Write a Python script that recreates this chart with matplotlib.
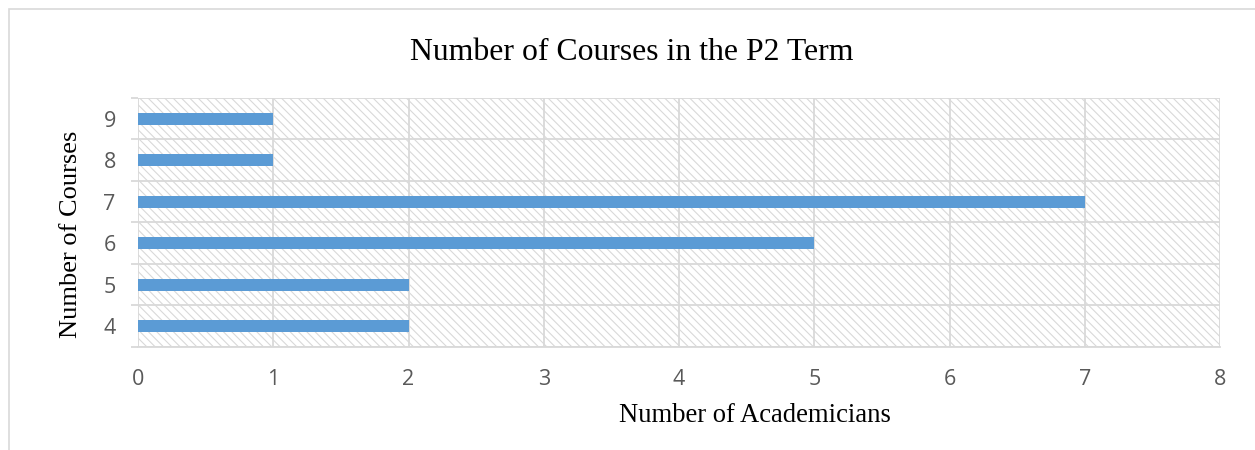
import matplotlib.pyplot as plt
from matplotlib.patches import Rectangle

# data
courses = [4, 5, 6, 7, 8, 9]
academicians = [2, 2, 5, 7, 1, 1]

BAR_COLOR = "#5B9BD5"
GRID_COLOR = "#D9D9D9"
TEXT_GRAY = "#595959"
W, H = 1255, 450

plt.rcParams["hatch.linewidth"] = 0.8
plt.rcParams["hatch.color"] = GRID_COLOR

fig = plt.figure(figsize=(W / 100, H / 100), dpi=100)
ax = fig.add_axes([138 / W, 1 - 347 / H, (1220 - 138) / W, (347 - 98) / H])

# figure frame (cut off at right and bottom like the reference)
fig.patches.append(Rectangle((9 / W, -0.1), 1.2, (441 / H) + 0.1,
                             transform=fig.transFigure, fill=False,
                             edgecolor=GRID_COLOR, linewidth=1.2))

# hatched plot area
ax.add_patch(Rectangle((0, 0), 1, 1, transform=ax.transAxes, facecolor="white",
                       edgecolor=GRID_COLOR, hatch="\\\\\\\\", linewidth=0, zorder=0))

ax.barh(courses, academicians, height=0.3, color=BAR_COLOR, zorder=3)

ax.set_xlim(0, 8)
ax.set_ylim(3.5, 9.5)
ax.set_xticks(range(0, 9))
ax.set_yticks(courses)
ax.set_yticks([c - 0.5 for c in courses] + [9.5], minor=True)

ax.grid(axis="x", which="major", color=GRID_COLOR, linewidth=1.3, zorder=1)
ax.grid(axis="y", which="minor", color=GRID_COLOR, linewidth=1.3, zorder=1)
ax.set_axisbelow(True)

for s in ax.spines.values():
    s.set_visible(False)
ax.spines["bottom"].set_visible(True)
ax.spines["bottom"].set_color(GRID_COLOR)
ax.spines["bottom"].set_linewidth(1.3)
ax.spines["bottom"].set_bounds(0, 8)

ax.tick_params(axis="both", which="major", length=0, labelsize=15.5,
               labelcolor=TEXT_GRAY)
ax.tick_params(axis="y", which="major", pad=16)
ax.tick_params(axis="x", which="major", pad=15.5)
ax.tick_params(axis="y", which="minor", length=5, color=GRID_COLOR, width=1.3)
for lab in ax.get_xticklabels() + ax.get_yticklabels():
    lab.set_fontfamily("Open Sans")

serif = "Liberation Serif"
fig.text(632 / W, 1 - 52 / H, "Number of Courses in the P2 Term",
         fontfamily=serif, fontsize=22.9, ha="center", va="center")
fig.text(755 / W, 1 - 415 / H, "Number of Academicians",
         fontfamily=serif, fontsize=19.2, ha="center", va="center")
fig.text(71 / W, 1 - 234 / H, "Number of Courses", rotation=90,
         fontfamily=serif, fontsize=19, ha="center", va="center")

fig.savefig("out.png", dpi=100)
